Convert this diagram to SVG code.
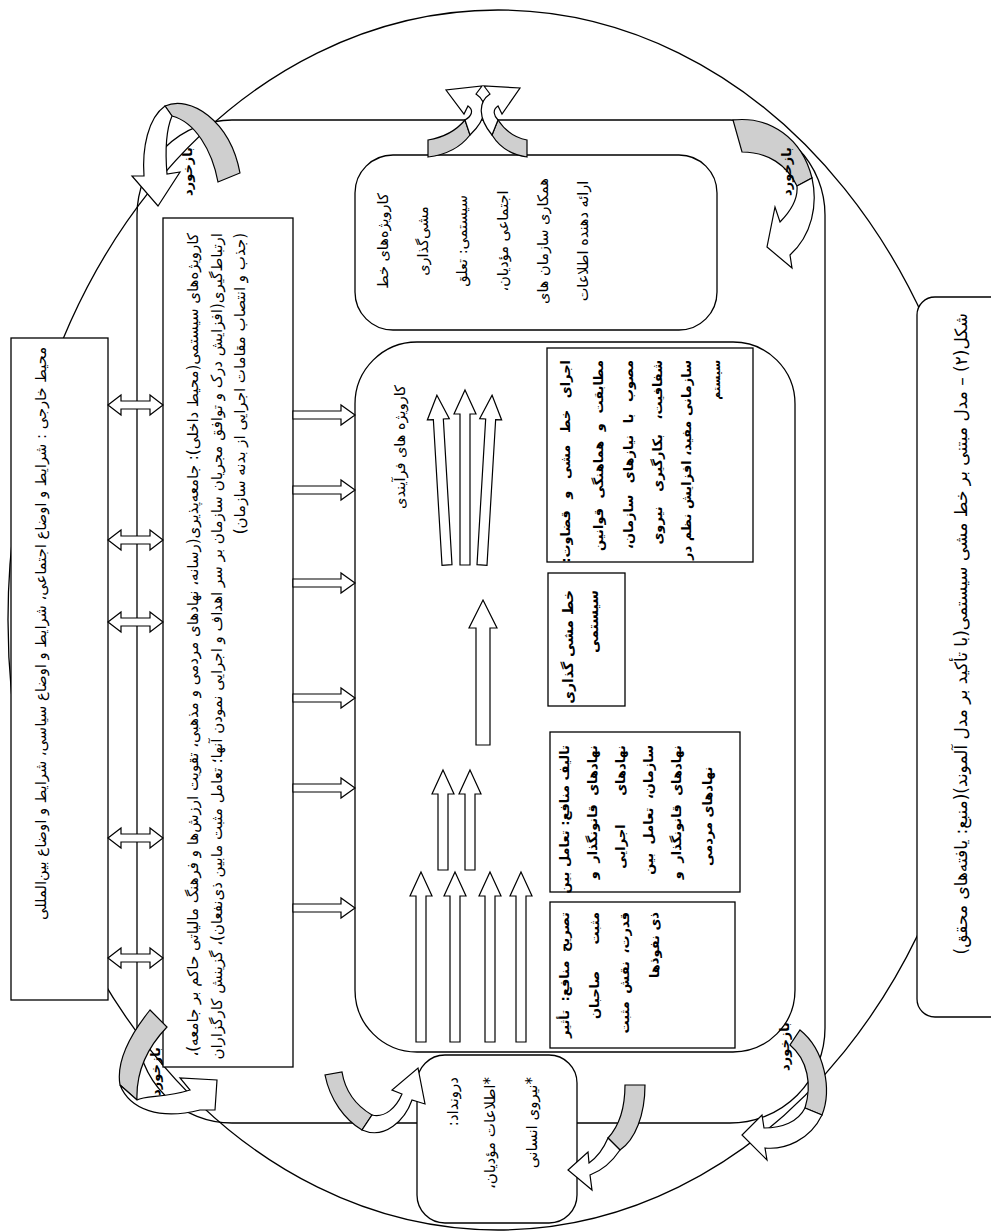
<svg xmlns="http://www.w3.org/2000/svg" width="991" height="1231" viewBox="0 0 991 1231">
<style>
 .ln{fill:none;stroke:#000;stroke-width:1.3}
 .bx{fill:#fff;stroke:#000;stroke-width:1.3}
 .ar{fill:#fff;stroke:#000;stroke-width:1.2}
 .gr{fill:#cfcfcf;stroke:#000;stroke-width:1.2}
 text{font-family:"DejaVu Sans",sans-serif;font-size:13px;direction:rtl;fill:#000}
 .b{font-weight:bold}
 .m{text-anchor:middle}
 .e{text-anchor:end}
</style>
<rect width="991" height="1231" fill="#fff"/>
<g id="ellipse"><ellipse class="ln" cx="498" cy="620" rx="490" ry="610"/></g>
<g id="frame"><rect class="ln" x="137" y="120" width="688" height="1003" rx="95"/></g>

<g id="external">
 <rect class="bx" x="11" y="338" width="97" height="662"/>
 <text transform="translate(46 347) rotate(-90)" style="font-size:14.7px">محیط خارجی : شرایط و اوضاع اجتماعی، شرایط و اوضاع سیاسی، شرایط و اوضاع بین‌المللی</text>
</g>

<g id="internal">
 <rect class="bx" x="163" y="218" width="130" height="849"/>
 <text transform="translate(198 233) rotate(-90)" style="font-size:15px">کارویژه‌های سیستمی(محیط داخلی): جامعه‌پذیری(رسانه، نهادهای مردمی و مذهبی، تقویت ارزش‌ها و فرهنگ مالیاتی حاکم بر جامعه)،</text>
 <text transform="translate(222 233) rotate(-90)" style="font-size:15px">ارتباط‌گیری(افزایش درک و توافق مجریان سازمان بر سر اهداف و اجرایی نمودن آنها؛ تعامل مثبت مابین ذی‌نفعان)، گزینش کارگزاران</text>
 <text transform="translate(245 233) rotate(-90)" style="font-size:15px">(جذب و انتصاب مقامات اجرایی از بدنه سازمان)</text>
</g>

<g id="policy-making">
 <rect class="bx" x="355" y="155" width="362" height="175" rx="38"/>
 <text class="m" transform="translate(388 241) rotate(-90)" style="font-size:14.5px">کارویژه‌های خط</text>
 <text class="m" transform="translate(428 241) rotate(-90)" style="font-size:14.5px">مشی‌گذاری</text>
 <text class="m" transform="translate(467 241) rotate(-90)" style="font-size:14.5px">سیستمی: تعلق</text>
 <text class="m" transform="translate(508 241) rotate(-90)" style="font-size:14.5px">اجتماعی مؤدیان،</text>
 <text class="m" transform="translate(548 241) rotate(-90)" style="font-size:14.5px">همکاری سازمان های</text>
 <text class="m" transform="translate(588 241) rotate(-90)" style="font-size:14.5px">ارائه دهنده اطلاعات</text>
</g>

<g id="process">
 <rect class="bx" x="355" y="342" width="440" height="710" rx="62"/>
 <text transform="translate(405 385) rotate(-90)" style="font-size:14.5px">کارویژه های فرآیندی</text>
</g>

<g id="implementation">
 <rect class="bx" x="547" y="348" width="206" height="214"/>
 <text class="b" transform="translate(570 360) rotate(-90)" style="word-spacing:7px">اجرای خط مشی و قضاوت:</text>
 <text class="b" transform="translate(603 360) rotate(-90)" style="word-spacing:5px">مطابقت و هماهنگی قوانین</text>
 <text class="b" transform="translate(633 360) rotate(-90)" style="word-spacing:7px">مصوب با نیازهای سازمان،</text>
 <text class="b" transform="translate(662 360) rotate(-90)" style="word-spacing:10px">شفافیت، بکارگیری نیروی</text>
 <text class="b" transform="translate(691 360) rotate(-90)">سازمانی مفید، افزایش نظم در</text>
 <text class="b" transform="translate(720 360) rotate(-90)" style="font-size:11px">سیستم</text>
</g>

<g id="policy">
 <rect class="bx" x="548" y="573" width="77" height="133"/>
 <text class="b" transform="translate(573 590) rotate(-90)" style="font-size:14px">خط مشی گذاری</text>
 <text class="b" transform="translate(598 590) rotate(-90)" style="font-size:14px">سیستمی</text>
</g>

<g id="aggregation">
 <rect class="bx" x="550" y="732" width="190" height="160"/>
 <text class="b" transform="translate(569 745) rotate(-90)">تالیف منافع: تعامل بین</text>
 <text class="b" transform="translate(597 745) rotate(-90)" style="word-spacing:4px">نهادهای قانونگذار و</text>
 <text class="b" transform="translate(625 745) rotate(-90)" style="word-spacing:24px">نهادهای اجرایی</text>
 <text class="b" transform="translate(653 745) rotate(-90)" style="word-spacing:4px">سازمان، تعامل بین</text>
 <text class="b" transform="translate(681 745) rotate(-90)" style="word-spacing:4px">نهادهای قانونگذار و</text>
 <text class="b e" transform="translate(712 866) rotate(-90)">نهادهای مردمی</text>
</g>

<g id="articulation">
 <rect class="bx" x="550" y="902" width="185" height="146"/>
 <text class="b" transform="translate(569 912) rotate(-90)" style="word-spacing:4px">تصریح منافع: تأثیر</text>
 <text class="b" transform="translate(599 912) rotate(-90)" style="word-spacing:22px">مثبت صاحبان</text>
 <text class="b" transform="translate(629 912) rotate(-90)" style="word-spacing:3px">قدرت، نقش مثبت</text>
 <text class="b" transform="translate(659 912) rotate(-90)">ذی نفوذها</text>
</g>

<g id="input">
 <rect class="bx" x="417" y="1055" width="160" height="168" rx="28"/>
 <text transform="translate(458 1077) rotate(-90)" style="font-size:15px">درونداد:</text>
 <text transform="translate(495 1077) rotate(-90)" style="font-size:15px">*اطلاعات مؤدیان،</text>
 <text transform="translate(537 1077) rotate(-90)" style="font-size:15px">*نیروی انسانی</text>
</g>

<g id="caption">
 <rect class="bx" x="917" y="297" width="100" height="720" rx="18"/>
 <text transform="translate(967 313) rotate(-90)" style="font-size:17px">شکل(۲) – مدل مبتنی بر خط مشی سیستمی(با تأکید بر مدل آلموند)(منبع: یافته‌های محقق)</text>
</g>

<g id="connectors">
 <polygon class="ar" points="108,405 121,395 121,401 150,401 150,395 163,405 150,415 150,409 121,409 121,415"/>
 <polygon class="ar" points="108,540 121,530 121,536 150,536 150,530 163,540 150,550 150,544 121,544 121,550"/>
 <polygon class="ar" points="108,622 121,612 121,618 150,618 150,612 163,622 150,632 150,626 121,626 121,632"/>
 <polygon class="ar" points="108,838 121,828 121,834 150,834 150,828 163,838 150,848 150,842 121,842 121,848"/>
 <polygon class="ar" points="108,958 121,948 121,954 150,954 150,948 163,958 150,968 150,962 121,962 121,968"/>

 <polygon class="ar" points="293,411 341,411 341,405 355,415 341,425 341,419 293,419"/>
 <polygon class="ar" points="293,486 341,486 341,480 355,490 341,500 341,494 293,494"/>
 <polygon class="ar" points="293,579 341,579 341,573 355,583 341,593 341,587 293,587"/>
 <polygon class="ar" points="293,694 341,694 341,688 355,698 341,708 341,702 293,702"/>
 <polygon class="ar" points="293,784 341,784 341,778 355,788 341,798 341,792 293,792"/>
 <polygon class="ar" points="293,904 341,904 341,898 355,908 341,918 341,912 293,912"/>

 <polygon class="ar" transform="rotate(-3.4 447 565)" points="447,395 458,419 452,419 452,565 442,565 442,419 436,419"/>
 <polygon class="ar" points="465,390 476,414 470,414 470,565 460,565 460,414 454,414"/>
 <polygon class="ar" transform="rotate(3.4 482 565)" points="482,395 493,419 487,419 487,565 477,565 477,419 471,419"/>

 <polygon class="ar" points="483,600 497,628 490,628 490,745 476,745 476,628 469,628"/>

 <polygon class="ar" points="443,770 454,794 448,794 448,870 438,870 438,794 432,794"/>
 <polygon class="ar" points="470,770 481,794 475,794 475,870 465,870 465,794 459,794"/>

 <polygon class="ar" points="421,872 432,896 426,896 426,1042 416,1042 416,896 410,896"/>
 <polygon class="ar" points="455,872 466,896 460,896 460,1042 450,1042 450,896 444,896"/>
 <polygon class="ar" points="490,872 501,896 495,896 495,1042 485,1042 485,896 479,896"/>
 <polygon class="ar" points="521,872 532,896 526,896 526,1042 516,1042 516,896 510,896"/>
</g>

<g id="top-arrows">
 <path class="gr" d="M428,140 L428,157 C445,155 460,148 470,135 L465,120 C455,132 440,138 428,140 Z"/>
 <path class="ar" d="M470,135 C488,118 488,102 476,94 L482,86 L446,90 L464,114 L468,106 C474,110 472,116 465,120 Z"/>
 <path class="gr" d="M527,140 L527,157 C512,155 500,148 492,135 L498,120 C506,132 516,138 527,140 Z"/>
 <path class="ar" d="M492,135 C478,118 478,102 490,94 L484,86 L520,88 L502,114 L498,106 C492,110 494,116 498,120 Z"/>
</g>

<g id="feedback">
 <path class="gr" d="M165,106 C190,95 230,120 240,173 L218,182 C212,150 195,122 172,116 Z"/>
 <path class="ar" d="M165,106 C148,118 142,148 144,176 L132,176 L158,206 L180,172 L167,174 C165,150 166,130 172,116 Z"/>
 <text class="b" transform="translate(192 147) rotate(-90)">بازخورد</text>

 <path class="gr" d="M733,120 C770,116 802,138 812,178 L797,186 C787,165 768,152 742,152 Z"/>
 <path class="ar" d="M812,178 C818,205 812,235 790,255 L792,268 L767,247 L775,207 L780,222 C792,210 798,198 797,186 Z"/>
 <text class="b" transform="translate(791 147) rotate(-90)">بازخورد</text>

 <path class="gr" d="M150,1010 C130,1035 116,1062 120,1085 L137,1100 C136,1075 145,1050 167,1027 Z"/>
 <path class="ar" d="M120,1085 C130,1110 160,1120 200,1110 L215,1110 L217,1080 L180,1078 L190,1090 C165,1098 145,1095 137,1100 Z"/>
 <text class="b" transform="translate(160 1047) rotate(-90)">بازخورد</text>

 <path class="gr" d="M800,1030 C825,1050 832,1090 822,1115 L805,1108 C812,1085 808,1060 790,1045 Z"/>
 <path class="ar" d="M822,1115 C810,1140 785,1150 765,1148 L767,1160 L742,1135 L762,1115 L764,1128 C782,1128 798,1122 805,1108 Z"/>
 <text class="b" transform="translate(789 1022) rotate(-90)">بازخورد</text>

 <path class="gr" d="M325,1075 C330,1100 345,1120 362,1130 L372,1115 C355,1105 345,1090 342,1072 Z"/>
 <path class="ar" d="M362,1130 C385,1140 405,1120 412,1100 L425,1104 L418,1068 L392,1090 L402,1094 C396,1108 385,1118 372,1115 Z"/>

 <path class="gr" d="M645,1085 C645,1115 635,1140 620,1150 L608,1138 C620,1125 625,1105 625,1085 Z"/>
 <path class="ar" d="M620,1150 C610,1165 598,1172 590,1175 L592,1190 L568,1170 L588,1152 L589,1163 C596,1158 603,1150 608,1138 Z"/>
</g>
</svg>
